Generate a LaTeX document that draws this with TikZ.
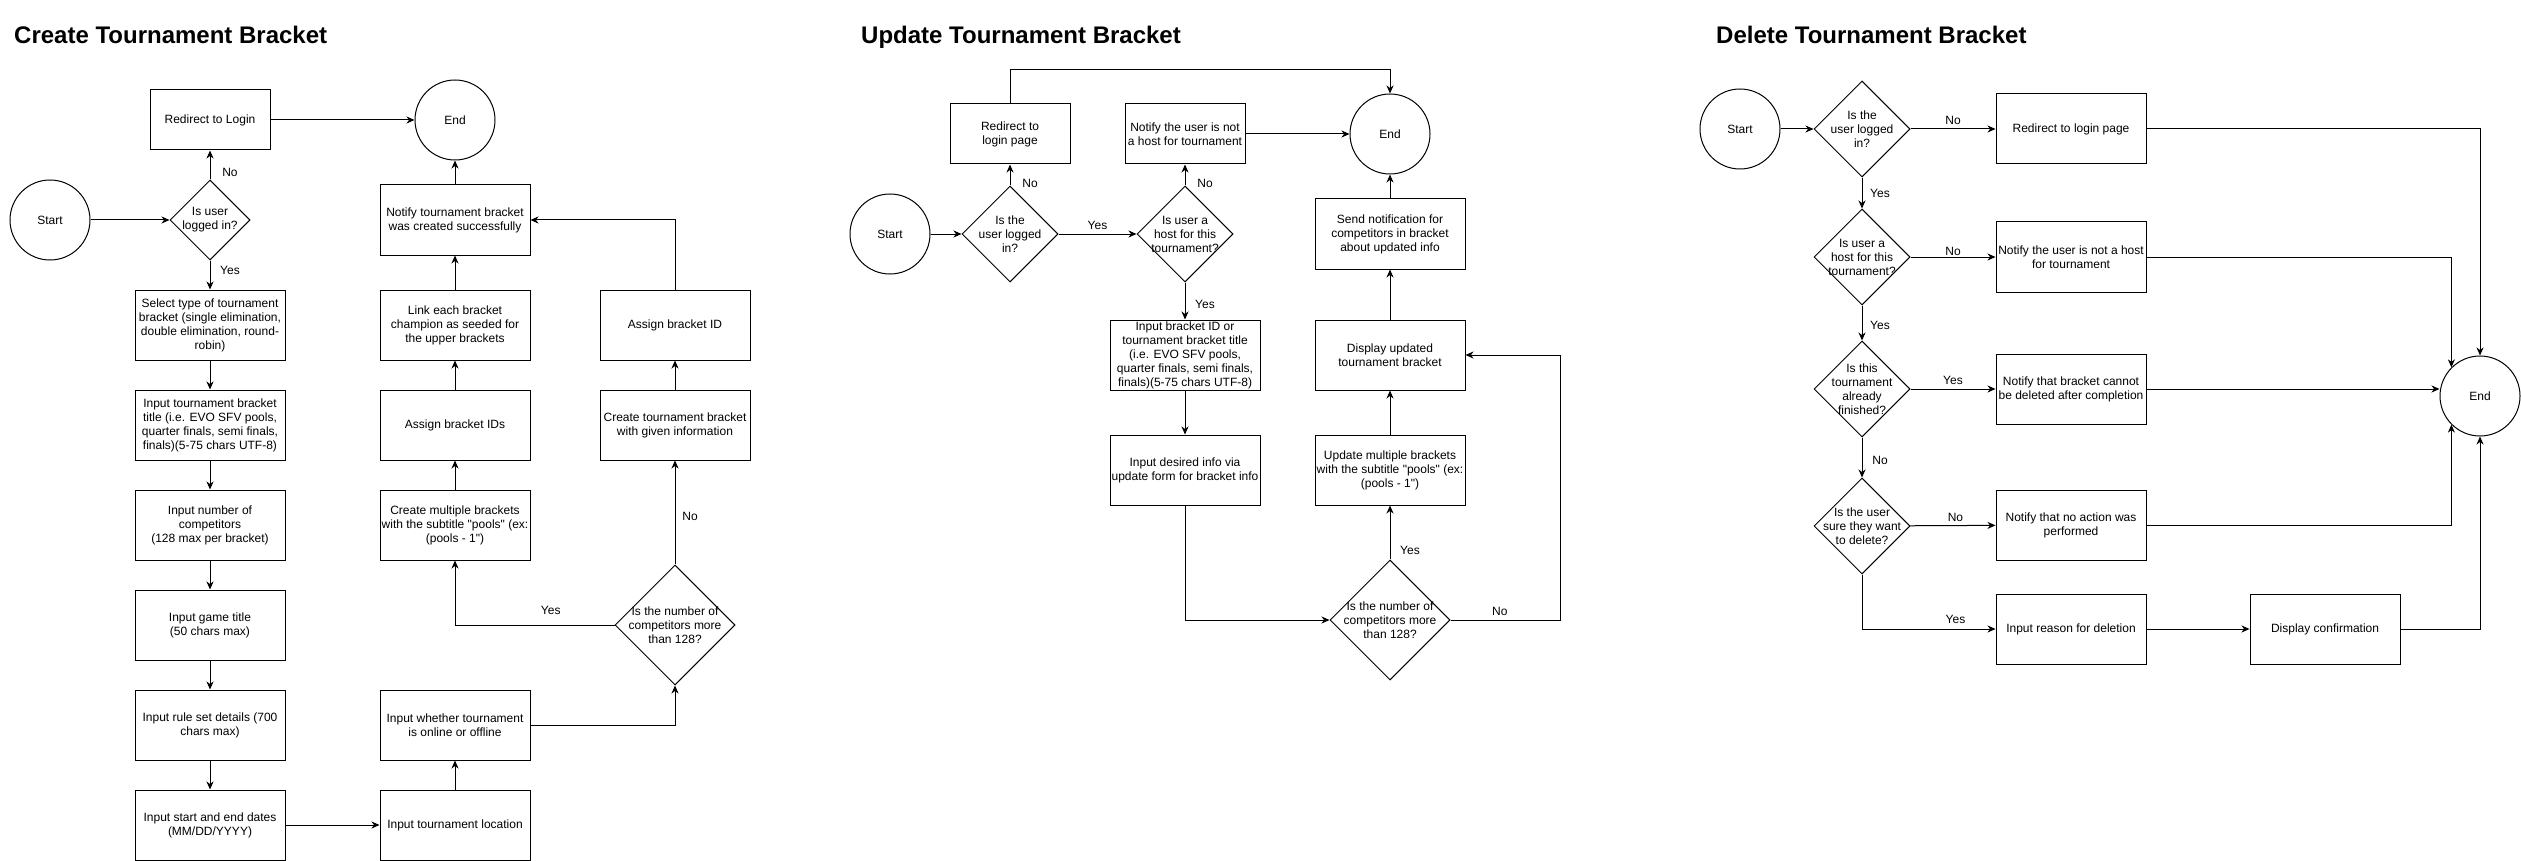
\documentclass[tikz,border=0pt]{standalone}
\usepackage{fontspec}
\setmainfont{Liberation Sans}
\usepackage{tikz}
\usetikzlibrary{arrows.meta,shapes.geometric,positioning}
\newcommand{\qq}{\textquotedbl}
\tikzset{
  box/.style={draw, line width=1pt, minimum width=150pt, minimum height=70pt, align=center, inner sep=0pt, font=\fontsize{12}{14}\selectfont},
  boxS/.style={box, minimum width=120pt, minimum height=60pt},
  term/.style={draw, circle, line width=1pt, minimum size=80pt, inner sep=0pt, font=\fontsize{12}{14}\selectfont},
  ask/.style={draw, diamond, aspect=1, line width=1pt, minimum size=#1, inner sep=0pt},
  ask/.default=96pt,
  askText/.style={align=center, inner sep=0pt, font=\fontsize{12}{14}\selectfont},
  flow/.style={-{Stealth[length=8pt,width=7pt,inset=2.5pt]}, line width=1pt},
  lbl/.style={inner sep=0pt, font=\fontsize{12}{14}\selectfont},
  heading/.style={anchor=base west, inner sep=0pt, font=\fontsize{24}{28}\selectfont\bfseries}
}
\begin{document}
\begin{tikzpicture}[x=1pt, y=-1pt]
  \useasboundingbox (0,0) rectangle (2521,861);
  % Create
  \node[heading] (cHead) at (14,44) {Create Tournament Bracket};
  \node[term] (cStart) at (50,220) {Start};
  \node[ask=80pt, label={[askText]center:{Is user\\logged in?}}] (cLogged) at (210,220) {};
  \node[boxS] (cLogin) at (210,120) {Redirect to Login};
  \node[term] (cEnd) at (455,120) {End};
  \node[box] (cType) at (210,325) {Select type of tournament\\bracket (single elimination,\\double elimination, round-\\robin)};
  \node[box] (cTitle) at (210,425) {Input tournament bracket\\title (i.e. EVO SFV pools,\\quarter finals, semi finals,\\finals)(5-75 chars UTF-8)};
  \node[box] (cNum) at (210,525) {Input number of\\competitors\\(128 max per bracket)};
  \node[box] (cGame) at (210,625) {Input game title\\(50 chars max)};
  \node[box] (cRules) at (210,725) {Input rule set details (700\\chars max)};
  \node[box] (cDates) at (210,825) {Input start and end dates\\(MM/DD/YYYY)};
  \node[box] (cLoc) at (455,825) {Input tournament location};
  \node[box] (cOnline) at (455,725) {Input whether tournament\\is online or offline};
  \node[ask=120pt, label={[askText]center:{Is the number of\\competitors more\\than 128?}}] (cMore) at (675,625) {};
  \node[box] (cPools) at (455,525) {Create multiple brackets\\with the subtitle \qq pools\qq{} (ex:\\(pools - 1\qq)};
  \node[box] (cIds) at (455,425) {Assign bracket IDs};
  \node[box] (cLink) at (455,325) {Link each bracket\\champion as seeded for\\the upper brackets};
  \node[box] (cNotify) at (455,220) {Notify tournament bracket\\was created successfully};
  \node[box] (cMake) at (675,425) {Create tournament bracket\\with given information};
  \node[box] (cBid) at (675,325) {Assign bracket ID};

  \draw[flow] (cStart) -- (cLogged);
  \draw[flow] (cLogged) -- node[lbl, pos=.25, xshift=20pt] {No} (cLogin);
  \draw[flow] (cLogged) -- node[lbl, pos=.35, xshift=20pt] {Yes} (cType);
  \draw[flow] (cLogin) -- (cEnd);
  \foreach \a/\b in {cType/cTitle, cTitle/cNum, cNum/cGame, cGame/cRules, cRules/cDates,
                     cDates/cLoc, cLoc/cOnline, cPools/cIds, cIds/cLink, cLink/cNotify,
                     cNotify/cEnd, cMake/cBid}
    \draw[flow] (\a) -- (\b);
  \draw[flow] (cOnline) -| (cMore);
  \draw[flow] (cMore) -| node[lbl, pos=.2, yshift=15pt] {Yes} (cPools);
  \draw[flow] (cMore) -- node[lbl, pos=.46, xshift=15pt] {No} (cMake);
  \draw[flow] (cBid) |- (cNotify);

  % Update
  \node[heading] (uHead) at (861,44) {Update Tournament Bracket};
  \node[term] (uStart) at (890,234) {Start};
  \node[ask, label={[askText]center:{Is the\\user logged\\in?}}] (uLogged) at (1010,234) {};
  \node[boxS] (uLogin) at (1010,134) {Redirect to\\login page};
  \node[ask, label={[askText]center:{Is user a\\host for this\\tournament?}}] (uHost) at (1185,234) {};
  \node[boxS] (uNotHost) at (1185,134) {Notify the user is not\\a host for tournament};
  \node[term] (uEnd) at (1390,134) {End};
  \node[box] (uBid) at (1185,355) {Input bracket ID or\\tournament bracket title\\(i.e. EVO SFV pools,\\quarter finals, semi finals,\\finals)(5-75 chars UTF-8)};
  \node[box] (uInfo) at (1185,470) {Input desired info via\\update form for bracket info};
  \node[ask=120pt, label={[askText]center:{Is the number of\\competitors more\\than 128?}}] (uMore) at (1390,620) {};
  \node[box] (uMulti) at (1390,470) {Update multiple brackets\\with the subtitle \qq pools\qq{} (ex:\\(pools - 1\qq)};
  \node[box] (uShow) at (1390,355) {Display updated\\tournament bracket};
  \node[box] (uSend) at (1390,234) {Send notification for\\competitors in bracket\\about updated info};

  \draw[flow] (uStart) -- (uLogged);
  \draw[flow] (uLogged) -- node[lbl, pos=.1, xshift=20pt] {No} (uLogin);
  \draw[flow] (uLogged) -- node[lbl, yshift=9pt] {Yes} (uHost);
  \draw[flow] (uHost) -- node[lbl, pos=.1, xshift=20pt] {No} (uNotHost);
  \draw[flow] (uHost) -- node[lbl, pos=.6, xshift=20pt] {Yes} (uBid);
  \draw[flow] (uBid) -- (uInfo);
  \draw[flow] (uInfo) |- (uMore);
  \draw[flow] (uMore) -- node[lbl, pos=.16, xshift=20pt] {Yes} (uMulti);
  \draw[flow] (uMore) -- node[lbl, pos=.45, yshift=9pt] {No} ++(170,0) |- (uShow);
  \draw[flow] (uMulti) -- (uShow);
  \draw[flow] (uShow) -- (uSend);
  \draw[flow] (uSend) -- (uEnd);
  \draw[flow] (uNotHost) -- (uEnd);
  \draw[flow] (uLogin.north) -- ++(0,-34) -| (uEnd);

  % Delete
  \node[heading] (dHead) at (1716,44) {Delete Tournament Bracket};
  \node[term] (dStart) at (1740,129) {Start};
  \node[ask, label={[askText]center:{Is the\\user logged\\in?}}] (dLogged) at (1862,129) {};
  \node[ask, label={[askText]center:{Is user a\\host for this\\tournament?}}] (dHost) at (1862,257) {};
  \node[ask, label={[askText]center:{Is this\\tournament\\already\\finished?}}] (dDone) at (1862,389) {};
  \node[ask, label={[askText]center:{Is the user\\sure they want\\to delete?}}] (dSure) at (1862,526) {};
  \node[box] (dLogin) at (2071,129) {Redirect to login page};
  \node[box] (dNotHost) at (2071,257) {Notify the user is not a host\\for tournament};
  \node[box] (dLocked) at (2071,389) {Notify that bracket cannot\\be deleted after completion};
  \node[box] (dNoAct) at (2071,525) {Notify that no action was\\performed};
  \node[box] (dReason) at (2071,629) {Input reason for deletion};
  \node[box] (dShow) at (2325,629) {Display confirmation};
  \node[term] (dEnd) at (2480,396) {End};

  \draw[flow] (dStart) -- (dLogged);
  \draw[flow] (dLogged) -- node[lbl, yshift=9pt] {No} (dLogin);
  \draw[flow] (dLogged) -- node[lbl, xshift=18pt] {Yes} (dHost);
  \draw[flow] (dHost) -- node[lbl, yshift=6pt] {No} (dNotHost);
  \draw[flow] (dHost) -- node[lbl, pos=.58, xshift=18pt] {Yes} (dDone);
  \draw[flow] (dDone) -- node[lbl, yshift=9pt] {Yes} (dLocked);
  \draw[flow] (dDone) -- node[lbl, pos=.58, xshift=18pt] {No} (dSure);
  \draw[flow] (dSure) -- node[lbl, pos=.53, yshift=8pt] {No} (dNoAct);
  \draw[flow] (dSure) |- node[lbl, pos=.85, yshift=10pt] {Yes} (dReason);
  \draw[flow] (dReason) -- (dShow);
  \draw[flow] (dShow) -| (dEnd);
  \draw[flow] (dLogin) -| (dEnd);
  \draw[flow] (dNotHost) -| (dEnd.north west);
  \draw[flow] (dNoAct) -| (dEnd.south west);
  \draw[flow] (dLocked) -- (dLocked -| dEnd.west);
\end{tikzpicture}
\end{document}
